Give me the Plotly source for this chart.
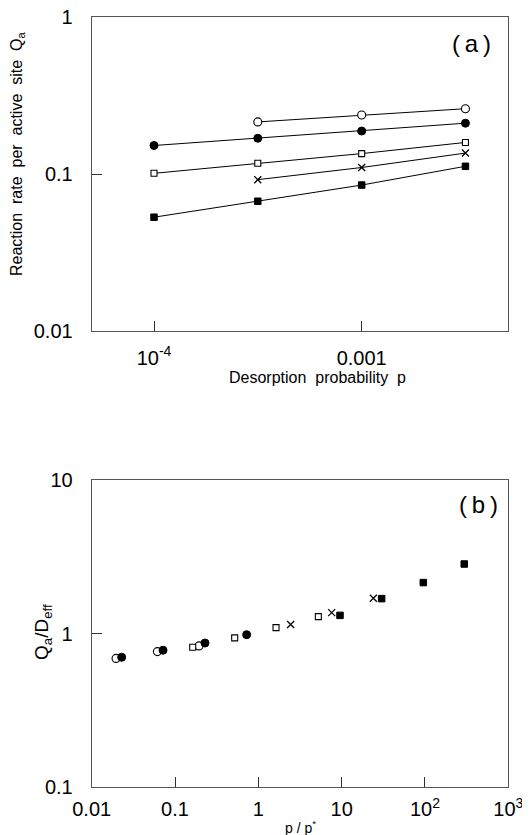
import plotly.graph_objects as go

W, H = 530, 835
OFF = 8  # page body margin of the browser

# ---- Panel (a) data ----
p_a = [1e-4, 3.16e-4, 1e-3, 3.16e-3]
qa_open_circle = [None, 0.215, 0.238, 0.261]
qa_filled_circle = [0.152, 0.169, 0.188, 0.211]
qa_open_square = [0.101, 0.117, 0.135, 0.159]
qa_cross = [None, 0.092, 0.110, 0.136]
qa_filled_square = [0.053, 0.067, 0.085, 0.112]

# ---- Panel (b) data ----
b_open_circle_x = [0.0196, 0.0614, 0.194]
b_open_circle_y = [0.690, 0.764, 0.832]
b_filled_circle_x = [0.0229, 0.0718, 0.229, 0.724]
b_filled_circle_y = [0.702, 0.780, 0.869, 0.985]
b_open_square_x = [0.163, 0.52, 1.63, 5.25]
b_open_square_y = [0.815, 0.938, 1.094, 1.29]
b_cross_x = [2.44, 7.59, 24.0]
b_cross_y = [1.146, 1.37, 1.70]
b_filled_square_x = [9.55, 30.2, 95.5, 296]
b_filled_square_y = [1.315, 1.69, 2.15, 2.84]

# tick labels
a_xtick_vals = [1e-4, 1e-3]
a_xtick_text = ["10<sup>-4</sup>", "0.001"]
a_ytick_vals = [0.01, 0.1, 1]
a_ytick_text = ["0.01", "0.1", "1"]
b_xtick_vals = [0.01, 0.1, 1, 10, 100, 1000]
b_xtick_text = ["0.01", "0.1", "1", "10", "10<sup>2</sup>", "10<sup>3</sup>"]
b_ytick_vals = [0.1, 1, 10]
b_ytick_text = ["0.1", "1", "10"]

FONT = "Liberation Sans, Arial, sans-serif"

styles = {
    "open_circle": dict(symbol="circle", size=8, color="white", line=dict(color="black", width=1.1)),
    "filled_circle": dict(symbol="circle", size=8, color="black", line=dict(color="black", width=1)),
    "open_square": dict(symbol="square", size=6, color="white", line=dict(color="black", width=1.1)),
    "cross": dict(symbol="x-thin", size=7, color="black", line=dict(color="black", width=1.3)),
    "filled_square": dict(symbol="square", size=6.5, color="black", line=dict(color="black", width=1)),
}

fig = go.Figure()

series_a = [
    ("open_circle", qa_open_circle),
    ("filled_circle", qa_filled_circle),
    ("open_square", qa_open_square),
    ("cross", qa_cross),
    ("filled_square", qa_filled_square),
]
for key, ys in series_a:
    xs = [x for x, y in zip(p_a, ys) if y is not None]
    yv = [y for y in ys if y is not None]
    fig.add_trace(go.Scatter(x=xs, y=yv, mode="lines+markers",
                             line=dict(color="black", width=1),
                             marker=styles[key], xaxis="x", yaxis="y",
                             showlegend=False))

series_b = [
    ("open_circle", b_open_circle_x, b_open_circle_y),
    ("filled_circle", b_filled_circle_x, b_filled_circle_y),
    ("open_square", b_open_square_x, b_open_square_y),
    ("cross", b_cross_x, b_cross_y),
    ("filled_square", b_filled_square_x, b_filled_square_y),
]
for key, xs, ys in series_b:
    fig.add_trace(go.Scatter(x=xs, y=ys, mode="markers",
                             marker=styles[key], xaxis="x2", yaxis="y2",
                             showlegend=False, cliponaxis=False))

def px(x):
    return (x - OFF) / W

def py(y):
    return 1 - (y - OFF) / H

axis_common = dict(type="log", showline=True, mirror=True, linecolor="#555",
                   linewidth=1, ticks="inside", ticklen=10, tickcolor="#333",
                   tickwidth=1, showgrid=False, zeroline=False,
                   automargin=False, ticklabeloverflow="allow",
                   tickfont=dict(family=FONT, size=20, color="black"),
                   tickmode="array")

fig.update_layout(
    width=W, height=H, margin=dict(l=0, r=0, t=0, b=0, autoexpand=False),
    paper_bgcolor="white", plot_bgcolor="white",
    xaxis=dict(axis_common, domain=[px(91.7), px(508.3)], range=[-4.30, -2.294],
               tickvals=a_xtick_vals, ticktext=a_xtick_text, anchor="y",
               ticklabelstandoff=9),
    yaxis=dict(axis_common, domain=[py(330.7), py(17.3)], range=[-2, 0],
               tickvals=a_ytick_vals, ticktext=a_ytick_text, anchor="x",
               ticklabelstandoff=14),
    xaxis2=dict(axis_common, domain=[px(91.7), px(508.3)], range=[-2, 3],
                tickvals=b_xtick_vals, ticktext=b_xtick_text, anchor="y2",
                ticklabelstandoff=4),
    yaxis2=dict(axis_common, domain=[py(787.3), py(480)], range=[-1, 1],
                tickvals=b_ytick_vals, ticktext=b_ytick_text, anchor="x2",
                ticklabelstandoff=14),
)

NB = "\u00a0"
ann = [
    dict(text="(\u2009a\u2009)", x=px(471), y=py(43), font=dict(size=24)),
    dict(text="(\u2009b\u2009)", x=px(478), y=py(505), font=dict(size=24)),
    dict(text=f"Desorption{NB}{NB}probability{NB}{NB}p", x=px(317), y=py(378), font=dict(size=16)),
    dict(text=f"Reaction{NB} rate{NB} per{NB} active{NB} site{NB} Q<sub>a</sub>", x=px(18), y=py(154),
         textangle=-90, font=dict(size=16)),
    dict(text="Q<sub>a</sub>/D<sub>eff</sub>", x=px(43), y=py(632),
         textangle=-90, font=dict(size=19)),
    dict(text=f"p{NB}/{NB}p<sup>*</sup>", x=px(300), y=py(827), font=dict(size=14)),
]
for a in ann:
    a.setdefault("xref", "paper")
    a.setdefault("yref", "paper")
    a["showarrow"] = False
    a["xanchor"] = "center"
    a["yanchor"] = "middle"
    a["font"] = dict(family=FONT, color="black", **a["font"])
    fig.add_annotation(**a)

fig.write_html("out.html")
